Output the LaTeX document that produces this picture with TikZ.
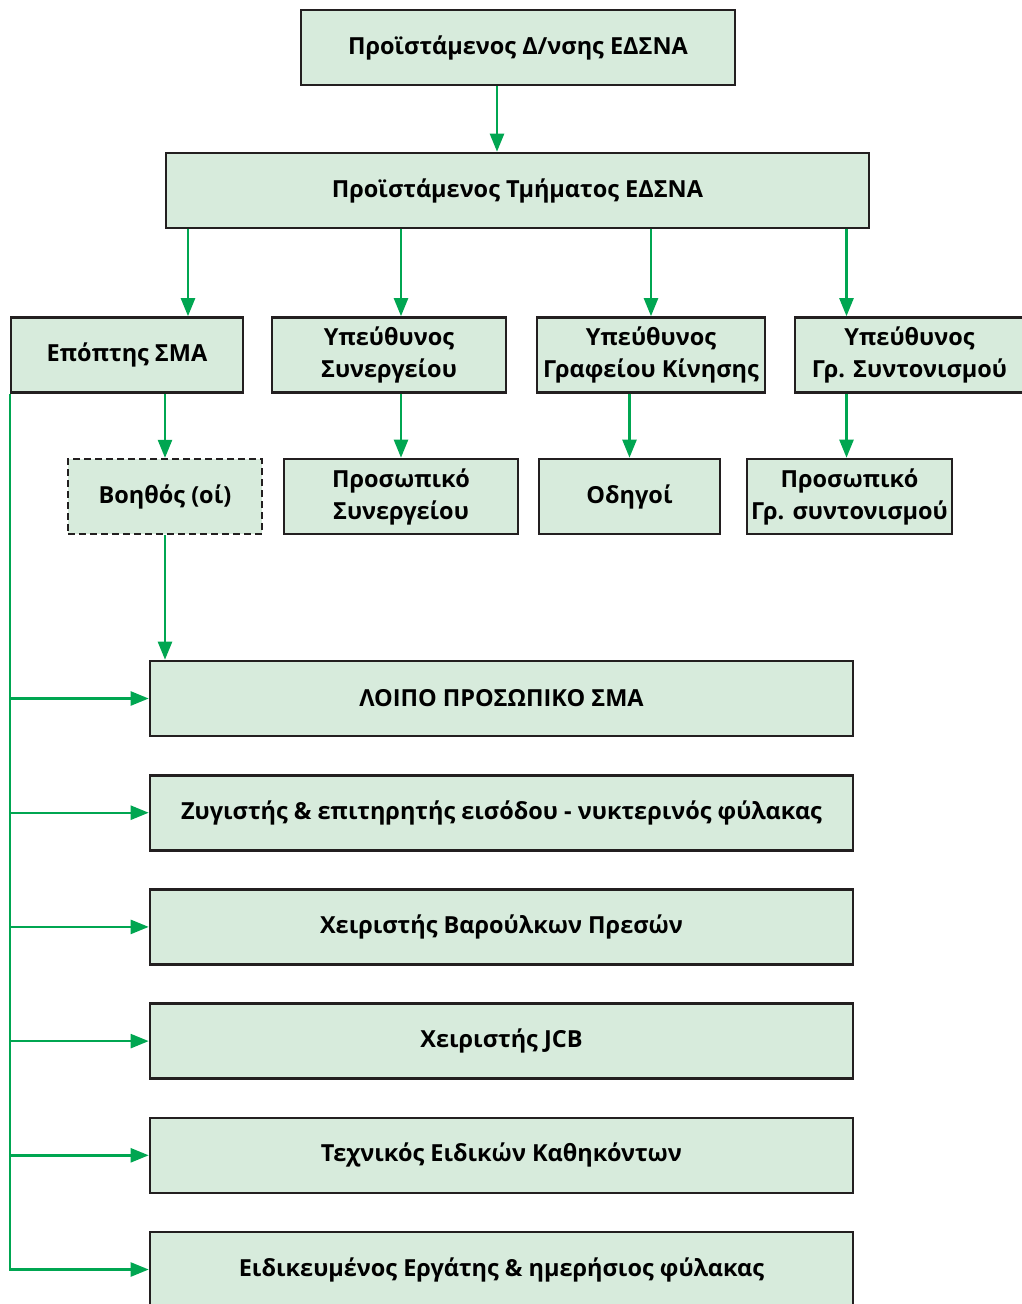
\documentclass[tikz,border=0pt]{standalone}
\usepackage{fontspec}
\setmainfont{Open Sans}
\usetikzlibrary{arrows.meta,positioning}
\definecolor{boxgreen}{HTML}{D7EBDC}
\definecolor{linegreen}{HTML}{00A651}
\definecolor{boxline}{HTML}{231F20}

\begin{document}
\begin{tikzpicture}[x=1pt,y=-1pt,
            box/.style = {draw=boxline,line width=2.6pt,fill=boxgreen,
                align=center,inner sep=0pt,minimum height=75pt,
                font=\fontsize{23.5}{32}\selectfont\bfseries},
            dashbox/.style = {box,line width=2.2pt,dash pattern=on 7pt off 4pt},
            arr/.style = {draw=linegreen,line width=2.4pt,
                -{Triangle[length=18pt,width=14pt]}}]
            \useasboundingbox (0,0) rectangle (1022,1304);
            % top levels
            \node[box,minimum width=434pt](dir) at (518,47.5) {Προϊστάμενος Δ/νσης ΕΔΣΝΑ};
            \node[box,minimum width=703pt](tm) at (517.5,190.5) {Προϊστάμενος Τμήματος ΕΔΣΝΑ};
            % third row
            \node[box,minimum width=232pt](ep) at (127,355) {Επόπτης ΣΜΑ};
            \node[box,minimum width=234pt](ys) at (389,355) {Υπεύθυνος\\Συνεργείου};
            \node[box,minimum width=228pt](yg) at (651,355) {Υπεύθυνος\\Γραφείου Κίνησης};
            \node[box,minimum width=229pt](yc) at (909.5,355) {Υπεύθυνος\\Γρ. Συντονισμού};
            % fourth row
            \node[dashbox,minimum width=194pt](vo) at (165,496.5) {Βοηθός (οί)};
            \node[box,minimum width=234pt](ps) at (401,496.5) {Προσωπικό\\Συνεργείου};
            \node[box,minimum width=181pt](od) at (629.5,496.5) {Οδηγοί};
            \node[box,minimum width=205pt](pc) at (849.5,496.5) {Προσωπικό\\Γρ. συντονισμού};
            % staff of the station
            \foreach \txt [count=\i] in {ΛΟΙΠΟ ΠΡΟΣΩΠΙΚΟ ΣΜΑ,
                    Ζυγιστής \& επιτηρητής εισόδου - νυκτερινός φύλακας,
                    Χειριστής Βαρούλκων Πρεσών,
                    Χειριστής JCB,
                    Τεχνικός Ειδικών Καθηκόντων,
                    Ειδικευμένος Εργάτης \& ημερήσιος φύλακας}
                \node[box,minimum width=703pt](st\i) at (501.5,{698.5+114.2*(\i-1)}) {\txt};
            % connectors
            \draw[arr] ([xshift=-21pt]dir.south) -- ([xshift=-21pt]dir.south |- tm.north);
            \draw[arr] ([xshift=61pt]ep.north |- tm.south) -- ([xshift=61pt]ep.north);
            \draw[arr] (ps.north |- tm.south) -- (ps.north |- ys.north);
            \draw[arr] (yg.north |- tm.south) -- (yg.north);
            \draw[arr] ([xshift=-3pt]pc.north |- tm.south) -- ([xshift=-3pt]pc.north |- yc.north);
            \draw[arr] (vo.north |- ep.south) -- (vo.north);
            \draw[arr] (ps.north |- ys.south) -- (ps.north);
            \draw[arr] (od.north |- yg.south) -- (od.north);
            \draw[arr] ([xshift=-3pt]pc.north |- yc.south) -- ([xshift=-3pt]pc.north);
            \draw[arr] (vo.south) -- (vo.south |- st1.north);
            \draw[arr] (ep.south west) |- (st6.west);
            \foreach \i in {1,...,5}
                \draw[arr] (ep.south west |- st\i.west) -- (st\i.west);
        \end{tikzpicture}
\end{document}
